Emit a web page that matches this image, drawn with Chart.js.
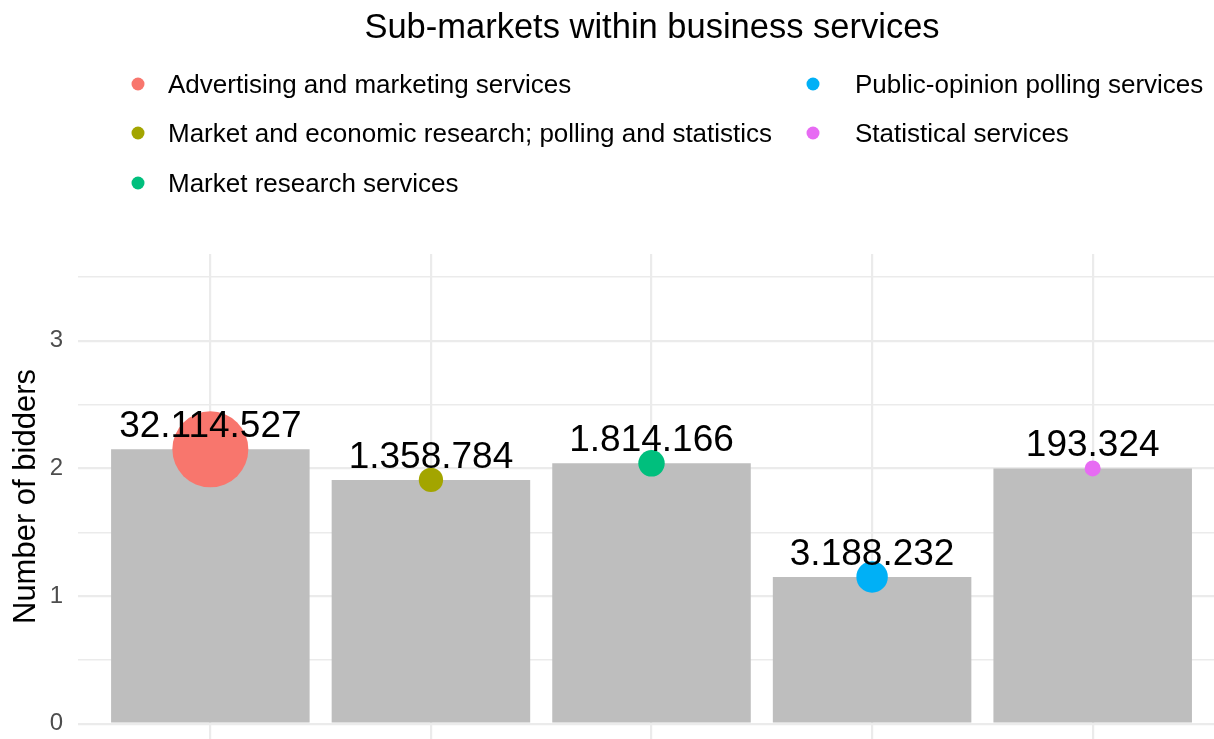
<!DOCTYPE html>
<html>
<head>
<meta charset="utf-8">
<title>Sub-markets within business services</title>
<script src="https://cdn.jsdelivr.net/npm/chart.js@4.4.1/dist/chart.umd.min.js"></script>
<style>
  html, body { margin: 0; padding: 0; background: #fff; }
  canvas { display: block; }
</style>
</head>
<body>
<canvas id="myChart" width="1214" height="739"></canvas>
<script>
// sub-markets, bidders per tender and market volume
const markets = [
  'Advertising and marketing services',
  'Market and economic research; polling and statistics',
  'Market research services',
  'Public-opinion polling services',
  'Statistical services'
];
const bidders = [2.15, 1.91, 2.04, 1.15, 2.0];
const volumes = [32114527, 1358784, 1814166, 3188232, 193324];
const colors = ['#F8766D', '#A3A500', '#00BF7D', '#00B0F6', '#E76BF3'];
const yTicks = [0, 0.5, 1, 1.5, 2, 2.5, 3, 3.5];

const FONT = "'Liberation Sans', Arial, sans-serif";

// point size: radius grows with sqrt of volume
function sizeScale(vals, rMin, rMax) {
  const s = vals.map(v => Math.sqrt(v));
  const lo = Math.min(...s), hi = Math.max(...s);
  return s.map(v => rMin + (v - lo) / (hi - lo) * (rMax - rMin));
}

function fmt(n) {
  return String(n).replace(/\B(?=(\d{3})+(?!\d))/g, '.');
}

const barData = [];
for (let i = 0; i < bidders.length; i++) {
  barData.push({x: i + 1, y: bidders[i]});
}

// title + two-column legend above the panel
const header = {
  id: 'header',
  afterDraw(chart) {
    const ctx = chart.ctx;
    ctx.save();
    ctx.fillStyle = '#000';
    ctx.font = '34.5px ' + FONT;
    ctx.textAlign = 'center';
    ctx.textBaseline = 'middle';
    ctx.fillText('Sub-markets within business services', 652, 28);

    ctx.font = '26px ' + FONT;
    ctx.textAlign = 'left';
    const cols = [[138, 168], [813, 855]];
    const rows = [84, 133, 183];
    for (let i = 0; i < markets.length; i++) {
      const c = cols[i < 3 ? 0 : 1];
      const y = rows[i < 3 ? i : i - 3];
      ctx.fillStyle = colors[i];
      ctx.beginPath();
      ctx.arc(c[0], y, 6.5, 0, Math.PI * 2);
      ctx.fill();
      ctx.fillStyle = '#000';
      ctx.fillText(markets[i], c[1], y + 1.5);
    }
    ctx.restore();
  }
};

// volume labels above each point
const valueLabels = {
  id: 'valueLabels',
  afterDatasetsDraw(chart) {
    const ctx = chart.ctx;
    const meta = chart.getDatasetMeta(0);
    ctx.save();
    ctx.fillStyle = '#000';
    ctx.font = '37px ' + FONT;
    ctx.textAlign = 'center';
    ctx.textBaseline = 'alphabetic';
    meta.data.forEach((pt, i) => {
      ctx.fillText(fmt(volumes[i]), pt.x, pt.y - 12);
    });
    ctx.restore();
  }
};

const config = {
  data: {
    datasets: [
      {
        type: 'scatter',
        label: 'Volume',
        data: barData,
        backgroundColor: colors,
        borderWidth: 0,
        pointRadius: sizeScale(volumes, 8, 38),
        pointHoverRadius: sizeScale(volumes, 8, 38),
        clip: false,
        order: 0
      },
      {
        type: 'bar',
        label: 'Number of bidders',
        data: barData,
        backgroundColor: '#BEBEBE',
        borderWidth: 0,
        categoryPercentage: 1,
        barPercentage: 0.9,
        order: 1
      }
    ]
  },
  options: {
    responsive: false,
    animation: false,
    layout: { autoPadding: false, padding: { top: 254, left: 0, right: 0, bottom: 0 } },
    plugins: {
      legend: { display: false },
      tooltip: { enabled: false }
    },
    scales: {
      x: {
        type: 'linear',
        offset: false,
        min: 0.4,
        max: 5.55,
        afterBuildTicks: (s) => { s.ticks = [1, 2, 3, 4, 5].map(v => ({value: v})); },
        afterFit: (s) => { s.height = 0; },
        ticks: { display: false },
        border: { display: false },
        grid: { offset: false, color: '#EBEBEB', lineWidth: 2.2, drawTicks: false }
      },
      y: {
        min: -0.12,
        max: 3.68,
        afterBuildTicks: (s) => { s.ticks = yTicks.map(v => ({value: v})); },
        afterFit: (s) => {
          s.width = 78;
          s.paddingTop = 0;
          s.paddingBottom = 0;
        },
        border: { display: false },
        grid: {
          drawTicks: false,
          color: '#EBEBEB',
          lineWidth: (c) => (c.tick && Number.isInteger(c.tick.value)) ? 2.2 : 1.4
        },
        ticks: {
          padding: 15,
          color: '#4D4D4D',
          font: { family: FONT, size: 24 },
          callback: (v) => Number.isInteger(v) ? v : ''
        },
        title: {
          display: true,
          text: 'Number of bidders',
          color: '#000',
          font: { family: FONT, size: 31 },
          padding: { top: 8, bottom: 0 }
        }
      }
    }
  },
  plugins: [header, valueLabels]
};

const chart = new Chart(document.getElementById('myChart'), config);
</script>
</body>
</html>
